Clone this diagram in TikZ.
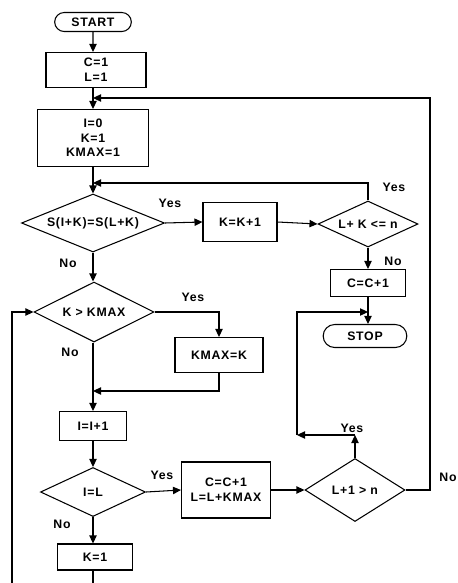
\documentclass[tikz,border=0pt]{standalone}
\usepackage{fontspec}
\setmainfont{Liberation Sans}[LetterSpace=6]
\usetikzlibrary{shapes.geometric,shapes.misc,arrows.meta}

\begin{document}
\begin{tikzpicture}[x=0.03cm, y=-0.03cm,
    every node/.style={font=\bfseries\fontsize{10.5}{12.5}\selectfont},
    box/.style={draw, line width=0.9pt, align=center, inner sep=1pt},
    dia/.style={draw, diamond, aspect=2, inner sep=0pt, line width=0.9pt},
    term/.style={draw, rounded rectangle, line width=0.9pt, inner sep=1pt},
    arr/.style={-{Triangle[length=2.4mm,width=2.2mm]}, line width=0.9pt},
    ln/.style={line width=0.9pt}]
    \fill[white] (0,0) rectangle (458,583);
    \useasboundingbox (0,0) rectangle (458,583);

    % main column
    \node[term, minimum width=2.37cm, minimum height=0.57cm] (start) at (93,22) {START};
    \node[box, minimum width=3cm, minimum height=1.05cm] (init1) at (96,70) {C=1\\L=1};
    \node[box, minimum width=3.33cm, minimum height=1.71cm] (init2) at (93,138) {I=0\\K=1\\KMAX=1};
    \node[dia, minimum width=4.29cm, minimum height=1.74cm] (cmp) at (93,223) {S(I+K)=S(L+K)};
    \node[dia, minimum width=3.6cm, minimum height=1.8cm] (kmax) at (94,312) {K > KMAX};
    \node[box, minimum width=2.01cm, minimum height=0.87cm] (incI) at (93,426) {I=I+1};
    \node[dia, minimum width=3.15cm, minimum height=1.47cm] (eqI) at (93,492) {I=L};
    \node[box, minimum width=2.25cm, minimum height=0.78cm] (reset) at (95,557) {K=1};

    % right part
    \node[box, minimum width=2.22cm, minimum height=1.17cm] (incK) at (240,222) {K=K+1};
    \node[dia, minimum width=3cm, minimum height=1.38cm] (chkK) at (368,224) {L+ K <= n};
    \node[box, minimum width=2.25cm, minimum height=0.81cm] (incC) at (368,283) {C=C+1};
    \node[term, minimum width=2.58cm, minimum height=0.69cm] (stop) at (365,336) {STOP};
    \node[box, minimum width=2.64cm, minimum height=1.05cm] (setK) at (219,355) {KMAX=K};
    \node[box, minimum width=2.67cm, minimum height=1.68cm] (upd) at (226,490) {C=C+1\\L=L+KMAX};
    \node[dia, minimum width=3cm, minimum height=1.89cm] (last) at (355,490) {L+1 > n};

    % labels
    \node (yes1) at (170,203) {Yes};
    \node (no1) at (68,263) {No};
    \node (yes2) at (394,187) {Yes};
    \node (no2) at (393,261) {No};
    \node (yes3) at (193,297) {Yes};
    \node (no3) at (70,352) {No};
    \node (yes4) at (162,475) {Yes};
    \node (no4) at (62,524) {No};
    \node (yes5) at (352,428) {Yes};
    \node (no5) at (448,477) {No};

    % junctions
    \coordinate (j1) at (93,98);
    \coordinate (j2) at (93,183);
    \coordinate (j3) at (93,391);
    \coordinate (j4) at (368,312);
    \coordinate (up) at (355,435);
    \coordinate (bend) at (297,435);
    \coordinate (rt) at (430,98);
    \coordinate (endK) at (93,583);
    \coordinate (lft) at (12,583);

    \draw[arr] (start) -- (start |- init1.north);
    \draw[arr] (init1.south -| init2) -- (init2.north);
    \draw[arr] (init2) -- (cmp.north);
    \draw[arr] (cmp.east) -- (incK.west);
    \draw[arr] (cmp.south) -- (kmax.north -| cmp);
    \draw[arr] (incK.east) -- (chkK.west);
    \draw[arr] (chkK.north) |- (j2);
    \draw[arr] (chkK.south) -- (incC.north);
    \draw[arr] (incC) -- (stop.north -| incC);
    \draw[arr] (kmax.east) -| (setK.north);
    \draw[arr] (setK.south) |- (j3);
    \draw[arr] (kmax.south -| j3) -- (incI.north -| j3);
    \draw[arr] (incI) -- (eqI.north);
    \draw[arr] (eqI.east) -- (upd.west);
    \draw[arr] (eqI.south) -- (reset.north -| eqI);
    \draw[arr] (upd.east) -- (last.west);
    \draw[arr] (last.north) -- (up);
    \draw[arr] (up) -- (bend);
    \draw[arr] (bend) |- (j4);
    \draw[arr] (last.east) -| (rt) -- (j1);
    \draw[ln] (reset.south -| j1) -- (endK);
    \draw[arr] (lft) |- (kmax.west);
\end{tikzpicture}
\end{document}
